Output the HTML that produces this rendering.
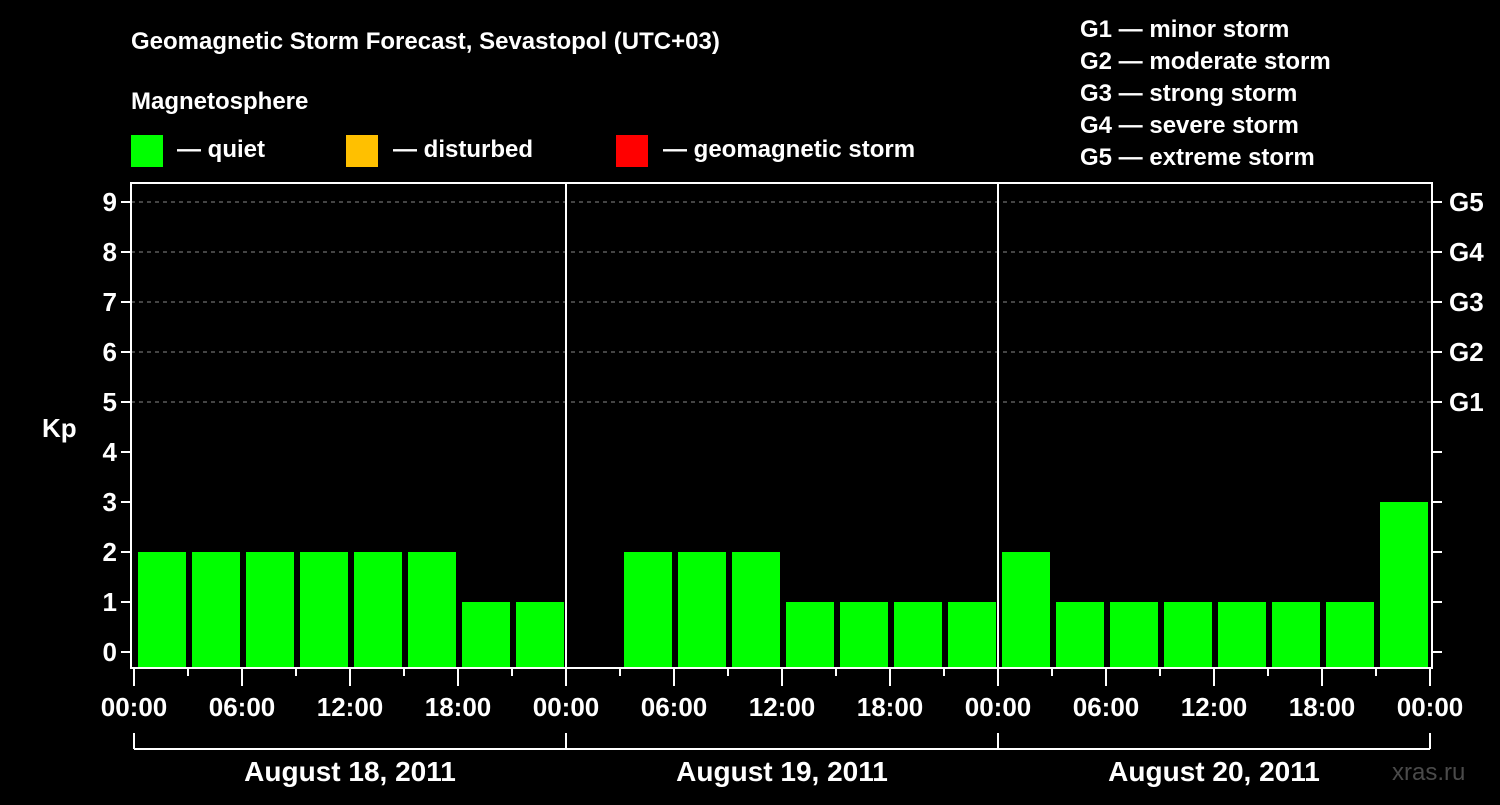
<!DOCTYPE html>
<html><head><meta charset="utf-8"><style>
html,body{margin:0;padding:0;background:#000;}
svg text{font-family:"Liberation Sans",Arial,sans-serif;font-weight:bold;fill:#fff;}
</style></head><body>
<svg id="c" width="1500" height="800" xmlns="http://www.w3.org/2000/svg">
<rect width="1500" height="800" fill="#000"/>
<text x="131" y="49" font-size="24">Geomagnetic Storm Forecast, Sevastopol (UTC+03)</text>
<text x="131" y="109" font-size="24">Magnetosphere</text>
<g><rect x="131" y="135" width="32" height="32" fill="#00ff00"/><text x="177" y="157" font-size="24">— quiet</text></g>
<g><rect x="346" y="135" width="32" height="32" fill="#ffc000"/><text x="393" y="157" font-size="24">— disturbed</text></g>
<g><rect x="616" y="135" width="32" height="32" fill="#ff0000"/><text x="663" y="157" font-size="24">— geomagnetic storm</text></g>
<g font-size="24">
<text x="1080" y="37">G1 — minor storm</text>
<text x="1080" y="69">G2 — moderate storm</text>
<text x="1080" y="101">G3 — strong storm</text>
<text x="1080" y="133">G4 — severe storm</text>
<text x="1080" y="165">G5 — extreme storm</text>
</g>
<text x="42" y="437" font-size="26">Kp</text>
<text x="1392" y="780" font-size="24" fill="#555" style="fill:#4a4a4a;font-weight:normal">xras.ru</text>
<g id="grid"></g><g id="bars"></g><g id="axes"></g>
</svg>
<script>
const days = ["August 18, 2011","August 19, 2011","August 20, 2011"];
const kpValues = [2,2,2,2,2,2,1,1, 0,2,2,2,1,1,1,1, 2,1,1,1,1,1,1,3];
const yTicks = [0,1,2,3,4,5,6,7,8,9];
const gLabels = ["G1","G2","G3","G4","G5"];
const timeLabels = ["00:00","06:00","12:00","18:00"];

const NS="http://www.w3.org/2000/svg";
const X0=134, slot=54, Y0=652, unit=50, L=131, R=1432, T=183, B=668;
const xs=i=>X0+i*slot;
const ys=v=>Y0-v*unit;
function mk(tag,attrs,parent,text){const e=document.createElementNS(NS,tag);for(const k in attrs)e.setAttribute(k,attrs[k]);if(text!=null)e.textContent=text;document.getElementById(parent).appendChild(e);return e;}
const color=v=>v>=5?"#ff0000":(v>=4?"#ffc000":"#00ff00");
// grid
for(let v=5;v<=9;v++){
 const g=mk("line",{x1:L,x2:R,y1:ys(v),y2:ys(v),stroke:"#888","stroke-dasharray":"4,4","stroke-width":1},"grid");
 
 
}
// bars
kpValues.forEach((v,i)=>{
 if(v<=0)return;
 const r=mk("rect",{x:xs(i)+4,y:ys(v),width:slot-6,height:B-ys(v),fill:color(v)},"bars");
 
 
});
// frame
const f=mk("rect",{x:L,y:T,width:R-L,height:B-T,fill:"none",stroke:"#fff","stroke-width":2},"axes");


for(let d=1;d<days.length;d++){
 const l=mk("line",{x1:xs(d*8),x2:xs(d*8),y1:T,y2:B,stroke:"#fff","stroke-width":2},"axes");
 
 
}
yTicks.forEach(v=>{
 mk("line",{x1:L-10,x2:L,y1:ys(v),y2:ys(v),stroke:"#fff","stroke-width":2},"axes");
 mk("line",{x1:R,x2:R+10,y1:ys(v),y2:ys(v),stroke:"#fff","stroke-width":2},"axes");
 const t=mk("text",{x:L-14,y:ys(v)+9,"font-size":26,"text-anchor":"end"},"axes",String(v));
 
 
});
gLabels.forEach((g,i)=>{
 const t=mk("text",{x:R+17,y:ys(5+i)+9,"font-size":26},"axes",g);
 
 
});
for(let i=0;i<=kpValues.length;i++){
 const major=i%2===0;
 mk("line",{x1:xs(i),x2:xs(i),y1:B,y2:B+(major?18:8),stroke:"#fff","stroke-width":2},"axes");
 if(major){
  const lab=i===kpValues.length?"00:00":timeLabels[(i/2)%4];
  const t=mk("text",{x:xs(i),y:716,"font-size":26,"text-anchor":"middle"},"axes",lab);
  
  
 }
}
mk("line",{x1:xs(0),x2:xs(kpValues.length),y1:749,y2:749,stroke:"#fff","stroke-width":2},"axes");
for(let d=0;d<=days.length;d++)mk("line",{x1:xs(d*8),x2:xs(d*8),y1:733,y2:749,stroke:"#fff","stroke-width":2},"axes");
days.forEach((d,i)=>{
 const t=mk("text",{x:xs(i*8+4),y:781,"font-size":28,"text-anchor":"middle"},"axes",d);
 
 
});
</script>
</body></html>
